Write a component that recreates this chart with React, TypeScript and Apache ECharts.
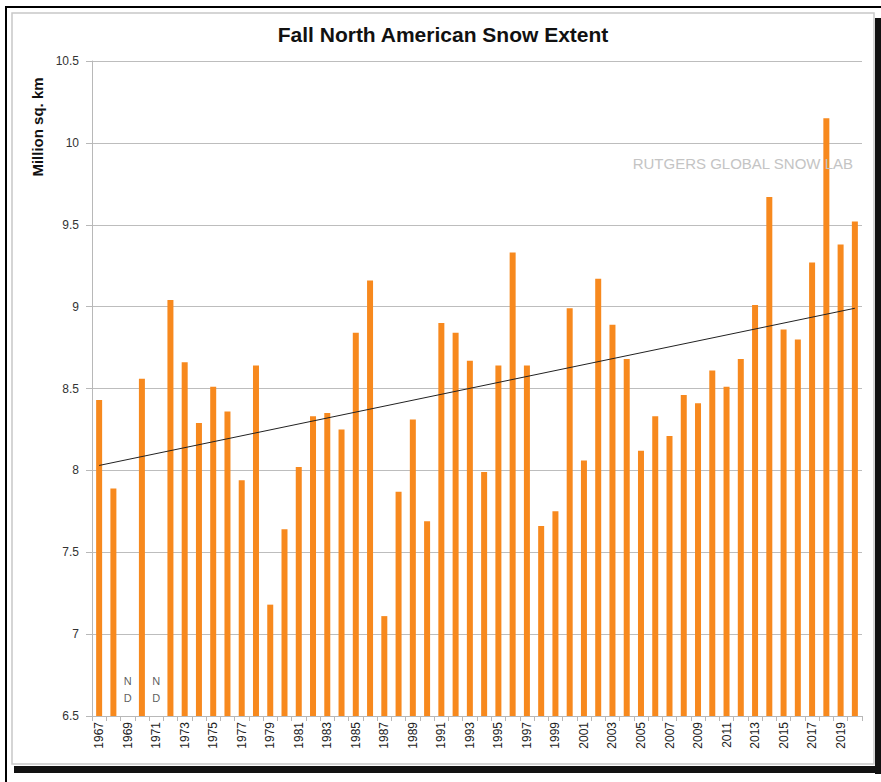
import React, { useEffect, useRef } from "react";
import * as echarts from "echarts";

const years: string[] = [
  "1967", "1968", "1969", "1970", "1971", "1972", "1973", "1974", "1975", "1976",
  "1977", "1978", "1979", "1980", "1981", "1982", "1983", "1984", "1985", "1986",
  "1987", "1988", "1989", "1990", "1991", "1992", "1993", "1994", "1995", "1996",
  "1997", "1998", "1999", "2000", "2001", "2002", "2003", "2004", "2005", "2006",
  "2007", "2008", "2009", "2010", "2011", "2012", "2013", "2014", "2015", "2016",
  "2017", "2018", "2019", "2020",
];

const snowExtent: (number | null)[] = [
  8.43, 7.89, null, 8.56, null, 9.04, 8.66, 8.29, 8.51, 8.36,
  7.94, 8.64, 7.18, 7.64, 8.02, 8.33, 8.35, 8.25, 8.84, 9.16,
  7.11, 7.87, 8.31, 7.69, 8.9, 8.84, 8.67, 7.99, 8.64, 9.33,
  8.64, 7.66, 7.75, 8.99, 8.06, 9.17, 8.89, 8.68, 8.12, 8.33,
  8.21, 8.46, 8.41, 8.61, 8.51, 8.68, 9.01, 9.67, 8.86, 8.8,
  9.27, 10.15, 9.38, 9.52,
];

const noDataYears: string[] = ["1969", "1971"];
const noDataLabelLevel = 6.66;

const trendStart = 8.03;
const trendEnd = 8.99;

const FONT = "Liberation Sans, Arial, Helvetica, sans-serif";

export default function App() {
  const ref = useRef<HTMLDivElement>(null);

  useEffect(() => {
    if (!ref.current) return;
    const chart = echarts.init(ref.current, undefined, { renderer: "svg" });
    const last = years.length - 1;
    const trendData = years.map((_, i) =>
      i === 0 ? trendStart : i === last ? trendEnd : null
    );

    chart.setOption({
      animation: false,
      backgroundColor: "#ffffff",
      textStyle: { fontFamily: FONT },
      graphic: [
        { type: "rect", z: -20, shape: { x: 5, y: 6, width: 876, height: 2 }, style: { fill: "#000" } },
        { type: "rect", z: -20, shape: { x: 5, y: 6, width: 2, height: 776 }, style: { fill: "#000" } },
        { type: "rect", z: -20, shape: { x: 875, y: 18, width: 6, height: 756 }, style: { fill: "#111" } },
        { type: "rect", z: -20, shape: { x: 14, y: 766, width: 867, height: 7 }, style: { fill: "#111" } },
        {
          type: "rect",
          z: -10,
          shape: { x: 12, y: 13, width: 862, height: 751 },
          style: { fill: "#ffffff", stroke: "#c8c8c8", lineWidth: 1.5 },
        },
        {
          type: "text",
          z: 10,
          x: 443,
          y: 34,
          style: {
            text: "Fall North American Snow Extent",
            font: `bold 21px ${FONT}`,
            fill: "#111",
            align: "center",
            verticalAlign: "middle",
          },
        },
        {
          type: "text",
          z: 10,
          x: 37,
          y: 127,
          rotation: Math.PI / 2,
          style: {
            text: "Million sq. km",
            font: `bold 15px ${FONT}`,
            fill: "#111",
            align: "center",
            verticalAlign: "middle",
          },
        },
        {
          type: "text",
          z: 10,
          x: 853,
          y: 163,
          style: {
            text: "RUTGERS GLOBAL SNOW LAB",
            font: `15px ${FONT}`,
            fill: "#c4c4c4",
            align: "right",
            verticalAlign: "middle",
          },
        },
      ],
      grid: { left: 92, right: 19, top: 61, bottom: 66, containLabel: false },
      xAxis: {
        type: "category",
        data: years,
        boundaryGap: true,
        axisLine: { show: true, lineStyle: { color: "#b8b8b8", width: 1 } },
        axisTick: { show: true, alignWithLabel: false, interval: 0, length: 5, lineStyle: { color: "#b8b8b8" } },
        axisLabel: {
          interval: 1,
          rotate: 90,
          fontSize: 12,
          color: "#222",
          fontFamily: FONT,
          margin: 6,
        },
        splitLine: { show: false },
      },
      yAxis: {
        type: "value",
        min: 6.5,
        max: 10.5,
        interval: 0.5,
        axisLine: { show: true, lineStyle: { color: "#b8b8b8", width: 1 } },
        axisTick: { show: true, length: 6, lineStyle: { color: "#b8b8b8" } },
        axisLabel: {
          fontSize: 12,
          color: "#333",
          fontFamily: FONT,
          margin: 13,
          formatter: (v: number) => String(v),
        },
        splitLine: { show: true, lineStyle: { color: "#bdbdbd", width: 1 } },
      },
      series: [
        {
          type: "bar",
          data: snowExtent,
          barWidth: 6,
          itemStyle: { color: "#F7891E" },
          z: 2,
        },
        {
          type: "line",
          data: trendData,
          connectNulls: true,
          symbol: "none",
          lineStyle: { color: "#222", width: 1 },
          z: 4,
        },
        {
          type: "scatter",
          data: noDataYears.map((y) => [y, noDataLabelLevel]),
          symbolSize: 1,
          itemStyle: { color: "transparent" },
          label: {
            show: true,
            position: "inside",
            formatter: "N\nD",
            fontSize: 11,
            lineHeight: 17,
            color: "#333",
            fontFamily: FONT,
          },
          z: 5,
        },
      ],
    });

    return () => chart.dispose();
  }, []);

  return (
    <div
      ref={ref}
      style={{ position: "absolute", left: 0, top: 0, width: 881, height: 782 }}
    />
  );
}
